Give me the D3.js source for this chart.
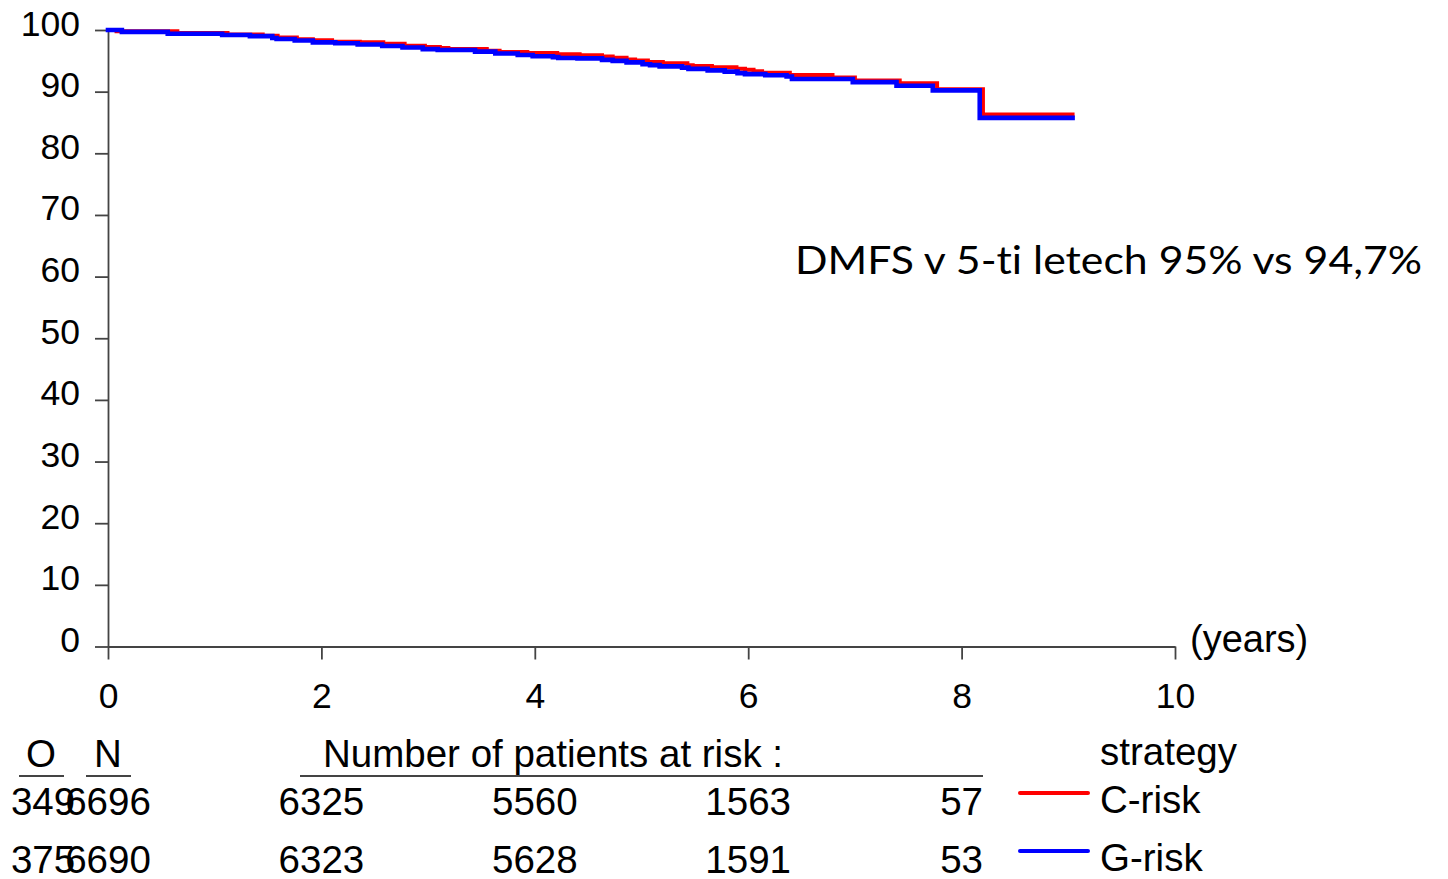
<!DOCTYPE html>
<html>
<head>
<meta charset="utf-8">
<script src="https://cdn.jsdelivr.net/npm/d3@7"></script>
<style>
  html, body { margin: 0; padding: 0; background: #fff; }
  svg { display: block; }
  text { font-family: "Liberation Sans", Arial, sans-serif; fill: #000; }
</style>
</head>
<body>
<svg id="chart" width="1448" height="879"></svg>
<script>
// Kaplan–Meier step data: event times (years) and survival (%) per arm
const cTimes = [0, 0.08, 0.65, 1.12, 1.45, 1.59, 1.77, 1.92, 2.10, 2.36, 2.58, 2.78, 2.97, 3.11, 3.19, 3.55, 3.67, 3.93, 4.21, 4.42, 4.63, 4.73, 4.86, 4.94, 5.06, 5.20, 5.43, 5.48, 5.66, 5.89, 5.97, 6.05, 6.13, 6.39, 6.79, 7.00, 7.42, 7.77, 8.20, 9.04];
const cSurv  = [100, 99.8, 99.5, 99.25, 99.05, 98.8, 98.5, 98.35, 98.1, 98.0, 97.75, 97.45, 97.25, 97.1, 96.9, 96.65, 96.45, 96.25, 96.05, 95.9, 95.7, 95.5, 95.2, 95.05, 94.8, 94.6, 94.3, 94.15, 93.95, 93.7, 93.55, 93.3, 93.05, 92.7, 92.3, 91.8, 91.35, 90.4, 86.3, 86.3];

const gTimes = [0, 0.13, 0.56, 1.07, 1.33, 1.54, 1.58, 1.75, 1.92, 2.13, 2.34, 2.57, 2.76, 2.95, 3.09, 3.44, 3.63, 3.84, 3.98, 4.17, 4.22, 4.40, 4.63, 4.73, 4.86, 5.01, 5.08, 5.17, 5.38, 5.44, 5.62, 5.78, 5.90, 5.97, 6.16, 6.36, 6.41, 6.98, 7.39, 7.73, 8.17, 9.04];
const gSurv  = [100, 99.7, 99.4, 99.2, 99.0, 98.7, 98.55, 98.3, 98.0, 97.85, 97.65, 97.4, 97.15, 96.9, 96.75, 96.5, 96.2, 95.95, 95.75, 95.6, 95.45, 95.4, 95.15, 95.0, 94.75, 94.45, 94.3, 94.1, 93.9, 93.7, 93.45, 93.25, 93.0, 92.85, 92.65, 92.45, 92.05, 91.55, 90.95, 90.2, 85.75, 85.75];

const yTicks = [0, 10, 20, 30, 40, 50, 60, 70, 80, 90, 100];
const xTicks = [0, 2, 4, 6, 8, 10];

// Risk table
const strategies = ["C-risk", "G-risk"];
const strategyColors = ["#ff0000", "#0000ff"];
const observed = [349, 375];
const totals = [6696, 6690];
const riskYears = [2, 4, 6, 8];
const atRiskC = [6325, 5560, 1563, 57];
const atRiskG = [6323, 5628, 1591, 53];

const note = "DMFS v 5-ti letech 95% vs 94,7%";

const svg = d3.select("#chart");
const axisColor = "#444";

const x = d3.scaleLinear().domain([0, 10]).range([108, 1175]);
const y = d3.scaleLinear().domain([0, 100]).range([646.5, 30]);

// Y axis
const yAxis = svg.append("g")
  .attr("transform", `translate(${x(0)},0)`)
  .call(d3.axisLeft(y).tickValues(yTicks).tickSize(13).tickSizeOuter(0).tickPadding(15));
// X axis
const xAxis = svg.append("g")
  .attr("transform", `translate(0,${y(0)})`)
  .call(d3.axisBottom(x).tickValues(xTicks).tickSize(13).tickSizeOuter(0).tickPadding(23.5));

[yAxis, xAxis].forEach(g => {
  g.selectAll("path.domain, line").attr("stroke", axisColor).attr("stroke-width", 1.8);
  g.selectAll("text")
    .style("font-family", '"Liberation Sans", Arial, sans-serif')
    .style("font-size", "35.5px")
    .attr("fill", "#000");
});
yAxis.selectAll("text").attr("dy", 5);

svg.append("text")
  .attr("x", 1190).attr("y", 652)
  .style("font-size", "38px")
  .text("(years)");

// Survival curves
const line = d3.line()
  .x(d => x(d[0]))
  .y(d => y(d[1]))
  .curve(d3.curveStepAfter);

const series = [
  { pts: d3.zip(cTimes, cSurv), color: strategyColors[0], w: 4 },
  { pts: d3.zip(gTimes, gSurv), color: strategyColors[1], w: 4.6 }
];
svg.selectAll("path.km")
  .data(series)
  .join("path")
  .attr("class", "km")
  .attr("d", d => line(d.pts))
  .attr("fill", "none")
  .attr("stroke", d => d.color)
  .attr("stroke-width", d => d.w)
  .attr("stroke-linejoin", "miter")
  .attr("stroke-linecap", "square");

// Annotation
svg.append("text")
  .attr("x", 795).attr("y", 274)
  .style("font-family", 'Lato, "Open Sans", sans-serif')
  .style("font-size", "39px")
  .style("font-variant-ligatures", "none")
  .attr("textLength", 627)
  .attr("lengthAdjust", "spacingAndGlyphs")
  .text(note);

// Risk table header
const tFont = "38.5px";
const header = svg.append("g");
header.append("text").attr("x", 41).attr("y", 767).attr("text-anchor", "middle").style("font-size", tFont).text("O");
header.append("text").attr("x", 108).attr("y", 767).attr("text-anchor", "middle").style("font-size", tFont).text("N");
header.append("text").attr("x", 323).attr("y", 767).style("font-size", tFont).text("Number of patients at risk :");
header.append("text").attr("x", 1100).attr("y", 765).style("font-size", tFont).text("strategy");
[[19, 64], [86, 131], [300, 983]].forEach(([a, b]) => {
  header.append("line")
    .attr("x1", a).attr("x2", b).attr("y1", 776).attr("y2", 776)
    .attr("stroke", axisColor).attr("stroke-width", 2);
});

const rowY = [815, 873];
const atRisk = [atRiskC, atRiskG];
strategies.forEach((s, i) => {
  const g = svg.append("g");
  g.append("text").attr("x", 43).attr("y", rowY[i]).attr("text-anchor", "middle").style("font-size", tFont).text(observed[i]);
  g.append("text").attr("x", 108).attr("y", rowY[i]).attr("text-anchor", "middle").style("font-size", tFont).text(totals[i]);
  g.selectAll("text.risk")
    .data(riskYears.map((yr, j) => [yr, atRisk[i][j]]))
    .join("text")
    .attr("class", "risk")
    .attr("x", d => x(d[0]))
    .attr("y", rowY[i])
    .attr("text-anchor", "middle")
    .style("font-size", tFont)
    .text(d => d[1]);
  g.append("line")
    .attr("x1", 1020).attr("x2", 1088)
    .attr("y1", rowY[i] - 22).attr("y2", rowY[i] - 22)
    .attr("stroke", strategyColors[i]).attr("stroke-width", 4)
    .attr("stroke-linecap", "round");
  g.append("text").attr("x", 1100).attr("y", rowY[i] - 2).style("font-size", tFont).text(s);
});
</script>
</body>
</html>
